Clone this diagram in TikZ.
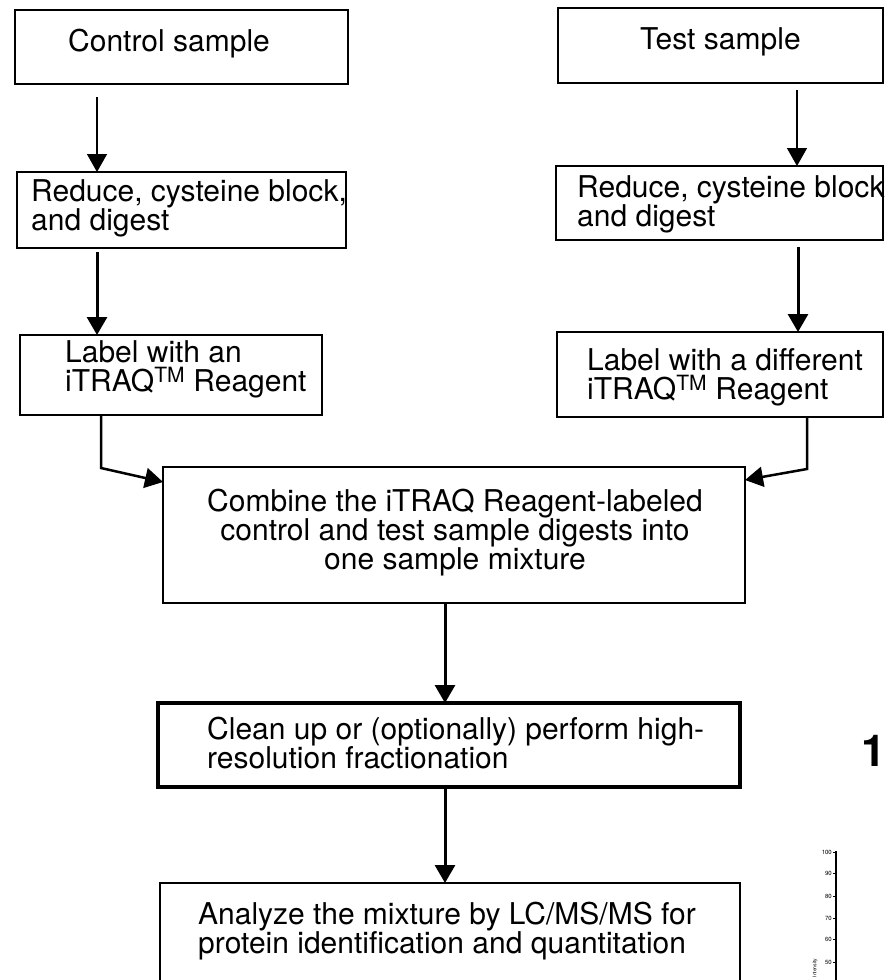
\documentclass[tikz,border=0pt]{standalone}
\usepackage{fontspec}
\setmainfont{TeX Gyre Heros}
\usetikzlibrary{arrows.meta,calc,fit}
\begin{document}
\begin{tikzpicture}[x=1bp,y=-1bp,
  bx/.style={draw,inner sep=0pt,outer sep=0pt,line width=2.5bp},
  tx/.style={inner sep=0pt,align=left,anchor=west,font=\fontsize{30bp}{29bp}\selectfont},
  arr/.style={-{Triangle[width=20bp,length=18bp]},line width=3bp},
  thinarr/.style={arr,line width=1.5bp},
  tick/.style={inner sep=0pt,anchor=east,font=\fontsize{6bp}{6bp}\selectfont}
]
\useasboundingbox[fill=white] (0,0) rectangle (885,980);

% boxes
\node[bx,fit={(15,10)(348,84)}] (ctrl) {};
\node[bx,fit={(558,8)(883,83)}] (test) {};
\node[bx,line width=2bp,fit={(17,172)(346,248)}] (red1) {};
\node[bx,line width=2bp,fit={(556,166)(883,240)}] (red2) {};
\node[bx,fit={(20,335)(322,415)}] (lab1) {};
\node[bx,fit={(557,332)(883,417)}] (lab2) {};
\node[bx,fit={(163,467)(745,603)}] (comb) {};
\node[bx,line width=4bp,fit={(158,703)(740,787)}] (clean) {};
\node[bx,line width=1.8bp,fit={(160,883)(740,1000)}] (anal) {};

% texts
\node[tx] (ctrlT) at (68,44) {Control sample};
\node[tx] (testT) at (640,42) {Test sample};
\node[tx] (red1T) at (31,208) {Reduce, cysteine block,\\and digest};
\node[tx] (red2T) at (577,204) {Reduce, cysteine block\\and digest};
\node[tx] (lab1T) at (65,369) {Label with an\\iTRAQ\textsuperscript{TM} Reagent};
\node[tx] (lab2T) at (587,377) {Label with a different\\iTRAQ\textsuperscript{TM} Reagent};
\node[tx,anchor=center,align=center] (combT) at (455,533) {Combine the iTRAQ Reagent-labeled\\control and test sample digests into\\one sample mixture};
\node[tx] (cleanT) at (207,743) {Clean up or (optionally) perform high-\\resolution fractionation};
\node[tx] (analT) at (198,931) {Analyze the mixture by LC/MS/MS for\\protein identification and quantitation};

% connectors
\draw[thinarr] ($(ctrl.south west)+(82,13)$) -- ($(red1.north west)+(80,0)$);
\draw[thinarr] ($(test.south west)+(239,7)$) -- ($(red2.north west)+(241,0)$);
\draw[arr] ($(red1.south west)+(80,4)$) -- ($(lab1.north west)+(77,0)$);
\draw[arr] ($(red2.south west)+(242,7)$) -- ($(lab2.north west)+(241,0)$);
\draw[arr,line width=2.5bp] ($(lab1.south west)+(81,0)$) -- ++(0,53) -- ($(comb.north west)+(0,15)$);
\draw[arr,line width=2.5bp] ($(lab2.south west)+(250,0)$) -- ++(0,52) -- ($(comb.north east)+(0,13)$);
\draw[arr] ($(comb.south west)+(282,0)$) -- ($(clean.north west)+(287,0)$);
\draw[arr] ($(clean.south west)+(287,0)$) -- ($(anal.north west)+(285,0)$);

% figure number fragment
\node[inner sep=0pt,font=\fontsize{44bp}{44bp}\selectfont\bfseries] (fignum) at (874,751) {1};

% tiny axis fragment
\draw[line width=1.5bp] (836,851) -- (836,990);
\foreach \v/\yy in {100/852,90/873,80/896,70/918,60/939,50/962}{
  \draw[line width=0.8bp] (833,\yy) -- (836,\yy);
  \node[tick] at (832,\yy) {\v};
}
\foreach \yy in {862,884,907,928,950,972}{
  \draw[line width=0.6bp] (834.5,\yy) -- (836,\yy);
}
\node[inner sep=0pt,rotate=90,font=\fontsize{5bp}{5bp}\selectfont] (ylab) at (815,968) {Intensity};
\end{tikzpicture}
\end{document}
